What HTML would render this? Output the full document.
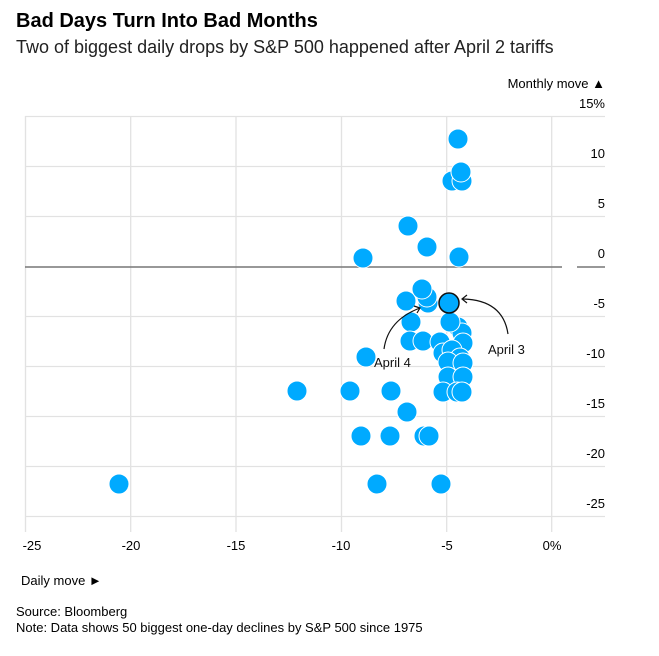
<!DOCTYPE html>
<html><head><meta charset="utf-8"><style>
body{margin:0;background:#fff;font-family:"Liberation Sans",Arial,sans-serif;}
svg text{font-family:"Liberation Sans",Arial,sans-serif;}
</style></head><body>
<svg width="659" height="651" viewBox="0 0 659 651" xmlns="http://www.w3.org/2000/svg">
<text x="16" y="27" font-size="20" font-weight="bold" fill="#000">Bad Days Turn Into Bad Months</text>
<text x="16" y="53" font-size="18" fill="#222">Two of biggest daily drops by S&amp;P 500 happened after April 2 tariffs</text>
<text x="605" y="88" font-size="13" text-anchor="end" fill="#000">Monthly move ▲</text>
<g stroke="#e2e2e2" stroke-width="1.3">
<line x1="25.5" y1="116" x2="25.5" y2="532"/><line x1="130.7" y1="116" x2="130.7" y2="532"/>
<line x1="236" y1="116" x2="236" y2="532"/><line x1="341.5" y1="116" x2="341.5" y2="532"/>
<line x1="446.7" y1="116" x2="446.7" y2="532"/><line x1="551.7" y1="116" x2="551.7" y2="532"/>
<line x1="25" y1="116.5" x2="605" y2="116.5"/><line x1="25" y1="166.5" x2="605" y2="166.5"/>
<line x1="25" y1="216.5" x2="605" y2="216.5"/><line x1="25" y1="316.5" x2="605" y2="316.5"/>
<line x1="25" y1="366.5" x2="605" y2="366.5"/><line x1="25" y1="416.5" x2="605" y2="416.5"/>
<line x1="25" y1="466.5" x2="605" y2="466.5"/><line x1="25" y1="516.5" x2="605" y2="516.5"/>
</g>
<line x1="25" y1="267" x2="562" y2="267" stroke="#777" stroke-width="1.5"/>
<line x1="577" y1="267" x2="605" y2="267" stroke="#777" stroke-width="1.5"/>
<g font-size="13" fill="#000" text-anchor="end">
<text x="605" y="108">15%</text><text x="605" y="158">10</text><text x="605" y="208">5</text>
<text x="605" y="258">0</text><text x="605" y="308">-5</text><text x="605" y="358">-10</text>
<text x="605" y="408">-15</text><text x="605" y="458">-20</text><text x="605" y="508">-25</text>
</g>
<g font-size="13" fill="#000" text-anchor="middle">
<text x="32" y="550">-25</text><text x="131" y="550">-20</text><text x="236" y="550">-15</text>
<text x="341" y="550">-10</text><text x="447" y="550">-5</text><text x="552" y="550">0%</text>
</g>
<text x="21" y="585" font-size="13" fill="#000">Daily move ►</text>
<g fill="#00aaff" stroke="#fff" stroke-width="1">
<circle cx="458" cy="139" r="10"/><circle cx="452" cy="181" r="10"/><circle cx="462" cy="181" r="10"/><circle cx="461" cy="172" r="10"/>
<circle cx="408" cy="226" r="10"/><circle cx="427" cy="247" r="10"/><circle cx="363" cy="258" r="10"/><circle cx="459" cy="257" r="10"/>
<circle cx="406" cy="301" r="10"/><circle cx="428" cy="303" r="10"/><circle cx="427" cy="297" r="10"/><circle cx="422" cy="289" r="10"/>
<circle cx="411" cy="322" r="10"/><circle cx="410" cy="341" r="10"/><circle cx="423" cy="341" r="10"/>
<circle cx="451" cy="322" r="10"/><circle cx="458" cy="327" r="10"/><circle cx="462" cy="333" r="10"/><circle cx="463" cy="343" r="10"/>
<circle cx="440" cy="342" r="10"/><circle cx="443" cy="353" r="10"/><circle cx="452" cy="350" r="10"/><circle cx="460" cy="358" r="10"/>
<circle cx="448" cy="362" r="10"/><circle cx="463" cy="363" r="10"/><circle cx="366" cy="357" r="10"/>
<circle cx="448" cy="377" r="10"/><circle cx="463" cy="377" r="10"/><circle cx="450" cy="322" r="10"/>
<circle cx="443" cy="392" r="10"/><circle cx="457" cy="392" r="10"/><circle cx="462" cy="392" r="10"/>
<circle cx="297" cy="391" r="10"/><circle cx="350" cy="391" r="10"/><circle cx="391" cy="391" r="10"/>
<circle cx="407" cy="412" r="10"/><circle cx="361" cy="436" r="10"/><circle cx="390" cy="436" r="10"/><circle cx="424" cy="436" r="10"/><circle cx="429" cy="436" r="10"/>
<circle cx="119" cy="484" r="10"/><circle cx="377" cy="484" r="10"/><circle cx="441" cy="484" r="10"/>
</g>
<circle cx="449" cy="303" r="10" fill="#00aaff" stroke="#111" stroke-width="1.5"/>
<g fill="none" stroke="#111" stroke-width="1.2">
<path d="M508 334 Q503 300 463 299"/><path d="M467 295 L462 299 L467 303"/>
<path d="M384 349 Q388 320 420 308"/><path d="M414 306 L420 308 L417 313"/>
</g>
<text x="488" y="354" font-size="13" fill="#111">April 3</text>
<text x="374" y="367" font-size="13" fill="#111">April 4</text>
<text x="16" y="616" font-size="13" fill="#000">Source: Bloomberg</text>
<text x="16" y="632" font-size="13" fill="#000">Note: Data shows 50 biggest one-day declines by S&amp;P 500 since 1975</text>
</svg>
</body></html>
